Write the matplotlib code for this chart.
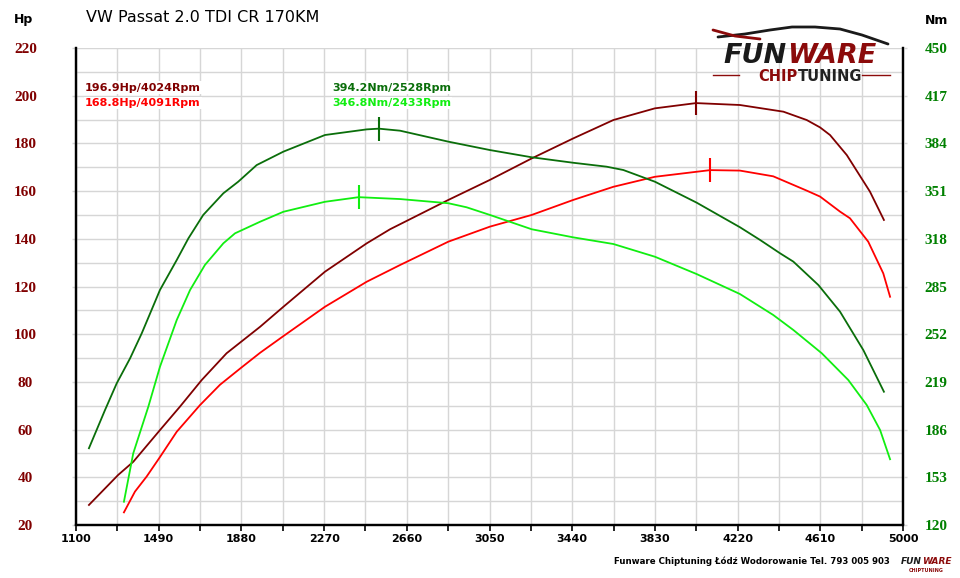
import numpy as np
import matplotlib
matplotlib.use('Agg')
import matplotlib.pyplot as plt

# dyno readings (rpm, value) per curve
rpm_hp_tuned = [1161, 1299, 1370, 1496, 1590, 1693, 1810, 1968, 2078, 2274, 2471, 2581, 2856,
                3052, 3249, 3445, 3634, 3830, 4024, 4231, 4436, 4546, 4609, 4656, 4735, 4844, 4910]
hp_tuned = [28.4, 41.0, 46.5, 59.8, 69.6, 80.8, 92.0, 103.1, 111.5, 126.2, 138.1, 144.0, 156.3,
            164.7, 173.7, 182.1, 189.8, 194.7, 196.9, 196.1, 193.3, 189.8, 186.7, 183.5, 175.1,
            159.8, 147.9]

rpm_hp_stock = [1326, 1378, 1433, 1496, 1575, 1685, 1779, 1874, 1968, 2078, 2274, 2471, 2628,
                2856, 3052, 3249, 3445, 3634, 3830, 4091, 4231, 4388, 4546, 4609, 4703, 4750,
                4836, 4907, 4939]
hp_stock = [25.3, 34.0, 40.3, 48.5, 59.1, 70.3, 78.8, 85.6, 92.2, 99.2, 111.5, 122.0, 129.0,
            138.8, 145.1, 150.0, 156.3, 161.8, 166.0, 168.8, 168.6, 166.2, 160.2, 157.7, 151.4,
            148.6, 138.8, 125.5, 115.7]

rpm_nm_tuned = [1161, 1237, 1292, 1355, 1410, 1496, 1575, 1630, 1700, 1795, 1865, 1952, 2078,
                2274, 2471, 2528, 2628, 2856, 3052, 3249, 3445, 3602, 3681, 3830, 4027, 4231,
                4326, 4420, 4483, 4601, 4703, 4813, 4910]
nm_tuned = [173.1, 199.6, 218.0, 235.3, 252.6, 282.6, 303.3, 318.3, 334.5, 349.5, 357.5, 369.0,
            378.3, 389.8, 393.7, 394.2, 392.8, 385.2, 379.4, 374.4, 370.6, 367.9, 365.6, 357.5,
            343.0, 326.0, 317.2, 308.0, 302.2, 286.0, 267.6, 241.0, 212.2]

rpm_nm_stock = [1326, 1370, 1441, 1496, 1575, 1638, 1708, 1795, 1850, 1968, 2078, 2274, 2433,
                2628, 2856, 2942, 3052, 3249, 3445, 3634, 3830, 4027, 4231, 4388, 4483, 4617,
                4742, 4829, 4892, 4939]
nm_stock = [136.1, 169.6, 201.8, 229.5, 261.8, 282.6, 299.9, 314.9, 321.8, 329.8, 336.7, 343.6,
            346.8, 345.5, 342.6, 339.8, 334.5, 324.6, 319.0, 314.4, 305.6, 293.6, 279.8, 265.3,
            254.9, 238.8, 220.3, 203.0, 185.7, 165.5]

peaks_hp = [(4024, 196.9), (4091, 168.8)]
peaks_nm = [(2528, 394.2), (2433, 346.8)]

hp_ticks = list(range(20, 221, 20))
nm_ticks = list(range(120, 451, 33))
rpm_ticks = list(range(1100, 5001, 390))

c_hp_t = '#800000'
c_hp_s = '#ff0000'
c_nm_t = '#0a6e0a'
c_nm_s = '#11ee11'
c_grid = '#d6d6d6'

fig = plt.figure(figsize=(9.6, 5.78), dpi=100, facecolor='w')
ax = fig.add_axes([76 / 960, 1 - 525 / 578, 827 / 960, 477 / 578])
ax2 = ax.twinx()

ax.set_xlim(1100, 5000)
ax.set_ylim(20, 220)
ax2.set_ylim(120, 450)

ax.set_xticks(rpm_ticks)
ax.set_xticks(np.arange(1100, 5001, 195), minor=True)
ax.set_yticks(hp_ticks)
ax.set_yticks(np.arange(20, 221, 10), minor=True)
ax2.set_yticks(nm_ticks)
ax.grid(True, which='both', color=c_grid, linewidth=1.0)
ax.set_axisbelow(True)

ax.tick_params(axis='x', which='both', direction='out', length=4.5, width=1.2, color='k', pad=2)
ax.tick_params(axis='y', which='major', direction='out', length=3, width=1, color=c_grid, pad=33.4)
ax.tick_params(axis='y', which='minor', length=0)
ax2.tick_params(axis='y', direction='out', length=3, width=1, color=c_grid, pad=20.8)

for lab in ax.get_xticklabels():
    lab.set_fontfamily('DejaVu Sans')
    lab.set_fontweight('bold')
    lab.set_fontsize(8)
for lab in ax.get_yticklabels():
    lab.set_fontfamily('Liberation Serif')
    lab.set_fontweight('bold')
    lab.set_fontsize(11)
    lab.set_color(c_hp_t)
    lab.set_ha('center')
for lab in ax2.get_yticklabels():
    lab.set_fontfamily('Liberation Serif')
    lab.set_fontweight('bold')
    lab.set_fontsize(11)
    lab.set_color('#008000')
    lab.set_ha('center')

for a in (ax, ax2):
    a.spines['top'].set_visible(False)
    for s in ('left', 'bottom', 'right'):
        a.spines[s].set_linewidth(1.6)
        a.spines[s].set_color('k')

ax.plot(rpm_hp_tuned, hp_tuned, color=c_hp_t, lw=1.3)
ax.plot(rpm_hp_stock, hp_stock, color=c_hp_s, lw=1.3)
ax2.plot(rpm_nm_tuned, nm_tuned, color=c_nm_t, lw=1.3)
ax2.plot(rpm_nm_stock, nm_stock, color=c_nm_s, lw=1.3)

# peak markers
ax.plot(*peaks_hp[0], marker='|', ms=17, mew=1.5, color=c_hp_t)
ax.plot(*peaks_hp[1], marker='|', ms=17, mew=1.5, color=c_hp_s)
ax2.plot(*peaks_nm[0], marker='|', ms=17, mew=1.5, color=c_nm_t)
ax2.plot(*peaks_nm[1], marker='|', ms=17, mew=1.5, color=c_nm_s)

box = dict(facecolor='white', edgecolor='none', pad=0.8)
ax2.text(0.011, 0.917, '%.1fHp/%dRpm' % (peaks_hp[0][1], peaks_hp[0][0]), transform=ax.transAxes,
         color=c_hp_t, fontsize=8, fontweight='bold', va='center', bbox=box)
ax2.text(0.011, 0.885, '%.1fHp/%dRpm' % (peaks_hp[1][1], peaks_hp[1][0]), transform=ax.transAxes,
         color=c_hp_s, fontsize=8, fontweight='bold', va='center', bbox=box)
ax2.text(0.3096, 0.917, '%.1fNm/%dRpm' % (peaks_nm[0][1], peaks_nm[0][0]), transform=ax.transAxes,
         color=c_nm_t, fontsize=8, fontweight='bold', va='center', bbox=box)
ax2.text(0.3096, 0.885, '%.1fNm/%dRpm' % (peaks_nm[1][1], peaks_nm[1][0]), transform=ax.transAxes,
         color=c_nm_s, fontsize=8, fontweight='bold', va='center', bbox=box)

# header texts
fig.text(14 / 960, 1 - 19 / 578, 'Hp', fontsize=9, fontweight='bold', va='center')
fig.text(925 / 960, 1 - 20 / 578, 'Nm', fontsize=9, fontweight='bold', va='center')
fig.text(86 / 960, 1 - 18 / 578, 'VW Passat 2.0 TDI CR 170KM', fontsize=11.5, va='center')

# logo
lg = fig.add_axes([710 / 960, 1 - 84 / 578, 182 / 960, 64 / 578])
lg.set_xlim(710, 892)
lg.set_ylim(84, 20)
lg.axis('off')
lg.text(787, 63, 'FUN', fontsize=19.5, fontweight='bold', fontstyle='italic', color='#1a1a1a',
        ha='right', va='baseline')
lg.text(787, 63, 'WARE', fontsize=19.5, fontweight='bold', fontstyle='italic', color='#8b0a0a',
        ha='left', va='baseline')
lg.text(798, 81, 'CHIP', fontsize=10.5, fontweight='bold', color='#8b0a0a', ha='right', va='baseline')
lg.text(798, 81, 'TUNING', fontsize=10.5, fontweight='bold', color='#222222', ha='left', va='baseline')
lg.plot([713, 739], [74.5, 74.5], color='#8b0a0a', lw=1)
lg.plot([862, 890], [74.5, 74.5], color='#8b0a0a', lw=1)
lg.plot([718, 745, 770, 792, 815, 840, 862, 888], [37, 34, 30, 27, 27, 29, 35, 44],
        color='#1a1a1a', lw=2.0, solid_capstyle='round')
lg.plot([713, 735, 760], [30, 36, 39], color='#8b0a0a', lw=2.0, solid_capstyle='round')

# footer
fig.text(890 / 960, 1 - 561 / 578, 'Funware Chiptuning Łódź Wodorowanie Tel. 793 005 903',
         fontsize=6.2, fontweight='bold', ha='right', va='center')
fig.text(922 / 960, 1 - 561 / 578, 'FUN', fontsize=6.5, fontweight='bold', fontstyle='italic',
         color='#1a1a1a', ha='right', va='center')
fig.text(922 / 960, 1 - 561 / 578, 'WARE', fontsize=6.5, fontweight='bold', fontstyle='italic',
         color='#8b0a0a', ha='left', va='center')
fig.text(926 / 960, 1 - 570 / 578, 'CHIPTUNING', fontsize=3.5, fontweight='bold',
         color='#8b0a0a', ha='center', va='center')

fig.savefig('out.png', dpi=100, facecolor='w')
